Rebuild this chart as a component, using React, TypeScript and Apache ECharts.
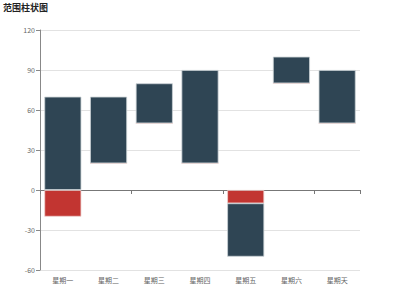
import React, { useEffect, useRef } from "react";
import * as echarts from "echarts";

const categories = ["星期一", "星期二", "星期三", "星期四", "星期五", "星期六", "星期天"];
// stacked parts: transparent base, red part, dark part
const baseValues = [0, 20, 50, 20, 0, 80, 50];
const redValues = [-20, 0, 0, 0, -10, 0, 0];
const darkValues = [70, 50, 30, 70, -40, 20, 40];
const yTicks = { min: -60, max: 120, interval: 30 };

export default function App() {
  const ref = useRef<HTMLDivElement>(null);
  useEffect(() => {
    const chart = echarts.init(ref.current!, undefined, { renderer: "svg" });
    const labelStyle = { color: "#666", fontSize: 7, fontFamily: "Noto Sans CJK SC" };
    chart.setOption({
      animation: false,
      title: {
        text: "范围柱状图",
        left: 3,
        top: 3,
        padding: 0,
        textStyle: { fontSize: 9, fontWeight: "bold", color: "#222", fontFamily: "Noto Sans CJK SC" },
      },
      grid: { left: 40, right: 40, top: 30, bottom: 30 },
      xAxis: [
        {
          type: "category",
          data: categories,
          position: "bottom",
          axisLine: { show: false, onZero: false },
          axisTick: { show: false },
          axisLabel: { ...labelStyle, margin: 6 },
        },
        {
          type: "category",
          data: categories,
          position: "bottom",
          axisLine: { show: true, onZero: true, lineStyle: { color: "#777", width: 1 } },
          axisTick: { show: true, length: 4, lineStyle: { color: "#777" } },
          axisLabel: { show: false },
        },
      ],
      yAxis: {
        type: "value",
        min: yTicks.min,
        max: yTicks.max,
        interval: yTicks.interval,
        axisLine: { show: true, lineStyle: { color: "#888" } },
        axisTick: { show: true, length: 4, lineStyle: { color: "#888" } },
        axisLabel: { ...labelStyle, margin: 5 },
        splitLine: { lineStyle: { color: "#e2e2e2" } },
      },
      series: [
        {
          name: "base",
          type: "bar",
          stack: "range",
          barCategoryGap: "19%",
          itemStyle: { color: "rgba(0,0,0,0)", borderColor: "rgba(0,0,0,0)" },
          data: baseValues,
        },
        {
          name: "negative",
          type: "bar",
          stack: "range",
          itemStyle: { color: "#c23531", borderColor: "#eed0ce", borderWidth: 0.8 },
          data: redValues,
        },
        {
          name: "range",
          type: "bar",
          stack: "range",
          itemStyle: { color: "#2f4554", borderColor: "#c9d0d4", borderWidth: 0.8 },
          data: darkValues,
        },
      ],
    });
    return () => chart.dispose();
  }, []);
  return <div ref={ref} style={{ width: 400, height: 300, position: "absolute", left: 0, top: 0 }} />;
}
